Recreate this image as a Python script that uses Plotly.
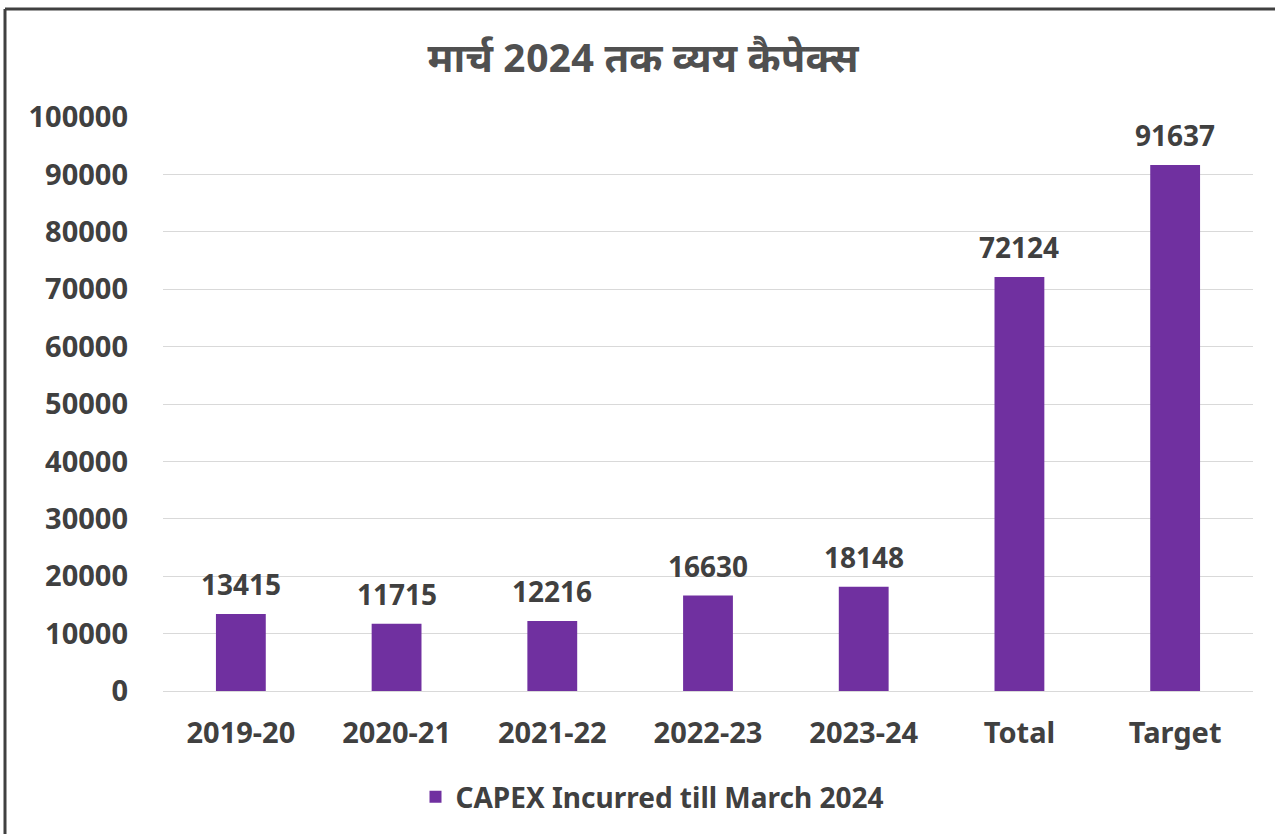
import plotly.graph_objects as go

categories = ["2019-20", "2020-21", "2021-22", "2022-23", "2023-24", "Total", "Target"]
values = [13415, 11715, 12216, 16630, 18148, 72124, 91637]
y_ticks = [0, 10000, 20000, 30000, 40000, 50000, 60000, 70000, 80000, 90000, 100000]
series_name = "CAPEX Incurred till March 2024"
title_text = "मार्च 2024 तक व्यय कैपेक्स"

W, H = 1275, 834
ml, mr, mt, mb = 163, 22, 117, 143
pw, ph = W - ml - mr, H - mt - mb

def px_x(x):
    return (x - ml) / pw

def px_y(y):
    return 1 - (y - mt) / ph

FONT = "Noto Sans, Open Sans, sans-serif"
TXT = "#404040"

fig = go.Figure()
fig.add_trace(go.Bar(
    x=categories, y=values, name=series_name,
    marker=dict(color="#7030A0", line=dict(width=0)),
    cliponaxis=False,
))

for c, v in zip(categories, values):
    fig.add_annotation(x=c, y=v, xref="x", yref="y", text=str(v), showarrow=False,
                       yanchor="bottom", yshift=9,
                       font=dict(family=FONT, size=28, color=TXT, weight=700))

fig.update_layout(
    width=W, height=H,
    margin=dict(l=ml, r=mr, t=mt, b=mb),
    paper_bgcolor="white", plot_bgcolor="white",
    bargap=0.68,
    showlegend=True,
    legend=dict(orientation="h", x=px_x(652), xanchor="center", y=px_y(797), yanchor="middle",
                font=dict(family=FONT, size=28, color=TXT, weight=700),
                itemwidth=30),
    title=dict(text=title_text, x=px_x(643), xanchor="center", xref="paper",
               y=1 - 58 / H, yanchor="middle",
               font=dict(family="Noto Sans Devanagari, Noto Sans, sans-serif", size=40,
                         color="#505050", weight=700)),
    xaxis=dict(tickfont=dict(family=FONT, size=29, color=TXT, weight=700),
               showline=True, linecolor="#d9d9d9", linewidth=1, ticks="", ticklabelstandoff=16),
    yaxis=dict(range=[0, 100000], tickvals=y_ticks, tickformat="d",
               tickfont=dict(family=FONT, size=29, color=TXT, weight=700),
               showgrid=True, gridcolor="#d9d9d9", gridwidth=1, zeroline=False,
               ticks="", ticklabelstandoff=34),
)

fig.add_shape(type="line", xref="paper", yref="paper",
              x0=px_x(5), x1=px_x(1280), y0=px_y(9), y1=px_y(9),
              line=dict(color="#404040", width=3))
fig.add_shape(type="line", xref="paper", yref="paper",
              x0=px_x(5), x1=px_x(5), y0=px_y(9), y1=px_y(840),
              line=dict(color="#404040", width=3))

fig.write_html("out.html", config={"displayModeBar": False},
               post_script="document.body.style.margin='0';document.body.style.padding='0';")
